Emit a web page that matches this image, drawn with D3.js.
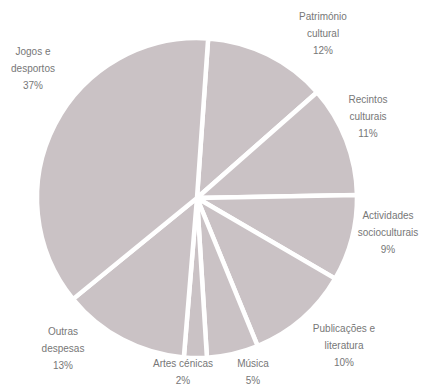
<!DOCTYPE html>
<html>
<head>
	<meta charset="utf-8">
	<script src="https://cdn.jsdelivr.net/npm/d3@7/dist/d3.min.js"></script>
	<style>
		html, body {
			padding: 0;
			margin: 0;
			background: #ffffff;
		}
		text {
			font-family: "Liberation Sans", Arial, sans-serif;
			font-size: 10px;
			fill: #777777;
		}
	</style>
</head>
<body>
	<script>
		// slices clockwise from the top
		var categories = ["Património|cultural", "Recintos|culturais", "Actividades|socioculturais",
			"Publicações e|literatura", "Música", "Artes cénicas", "Outras|despesas", "Jogos e|desportos"];
		var shares = [12.4, 11.2, 8.7, 10.4, 5.2, 2.3, 12.8, 37.0];

		var width = 432, height = 389;
		var cx = 197, cy = 198, radius = 160;

		// where each label block sits (centre x, first line y)
		var labelPos = [[323, 20], [368, 103], [388, 219], [344, 332], [253, 367], [183, 367], [63, 335], [33, 55]];

		var svg = d3.select('body').append('svg')
			.attr('width', width)
			.attr('height', height);

		var data = categories.map(function (c, i) { return { name: c, value: shares[i] }; });

		var start = 4 * Math.PI / 180;
		var pie = d3.pie()
			.sort(null)
			.value(function (d) { return d.value; })
			.startAngle(start)
			.endAngle(start + 2 * Math.PI);

		var arc = d3.arc().innerRadius(0).outerRadius(radius);

		var g = svg.append('g').attr('transform', 'translate(' + cx + ',' + cy + ')');

		g.selectAll('path')
			.data(pie(data))
			.enter().append('path')
			.attr('d', arc)
			.attr('fill', '#cac2c5')
			.attr('stroke', '#ffffff')
			.attr('stroke-width', 4.5)
			.attr('stroke-linejoin', 'round');

		// labels
		var labels = svg.selectAll('text.lbl')
			.data(data)
			.enter().append('text')
			.attr('class', 'lbl')
			.attr('text-anchor', 'middle')
			.attr('x', function (d, i) { return labelPos[i][0]; })
			.attr('y', function (d, i) { return labelPos[i][1]; });

		labels.each(function (d, i) {
			var lines = d.name.split('|').concat([Math.round(d.value) + '%']);
			var t = d3.select(this);
			lines.forEach(function (l, k) {
				t.append('tspan')
					.attr('x', labelPos[i][0])
					.attr('dy', k === 0 ? 0 : 17)
					.text(l);
			});
		});
	</script>
</body>
</html>
